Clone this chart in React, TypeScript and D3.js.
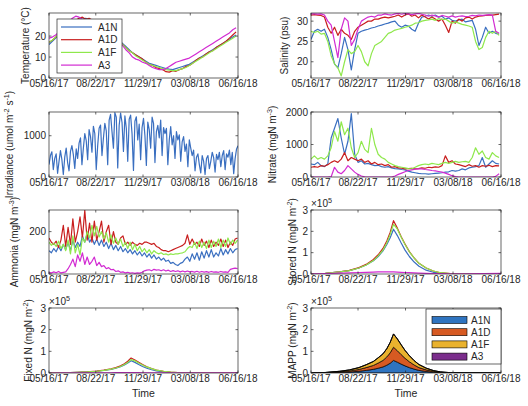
import React from "react";
import * as d3 from "d3";

// ---------------- data ----------------
const dateTickLabels = ["05/16/17", "08/22/17", "11/29/17", "03/08/18", "06/16/18"];
const siteNames = ["A1N", "A1D", "A1F", "A3"];
const siteColors = ["#3a6fc0", "#c81e1e", "#8fe84c", "#d22bd2"];
const stackColors = ["#2f74c0", "#d75a22", "#e9b22e", "#7b2d8c"];

// weekly samples (step 7 days)
const weeklyStep = 7;
const tempA1N = [16,17.5,19,20.5,22,23.5,25,26,27,27.5, 28,28.5,27.5,27,26.5,26,25,24,22.5,21, 19.5,18,16.5,15,13.5,12,11,10,9,8, 7,6.5,6,5.5,5,4.5,4.2,4,4.5,5, 5.5,6,6.5,7.5,8.5,9.5,10.5,11.5,12.5,13.5, 14.5,15.5,16.5,17.5,18.5,19.5,20.5];
const tempA1D = [17,18,19.5,21,22.5,24,25.5,26.5,27.5,28.5, 29,28,28.5,27.5,26.5,26,25,23.5,22,20.5, 19,17.5,16,14.5,13,12,11,10,9,7.5, 6.5,6,5,4.5,4,3,2.8,3.5,3.2,4, 4.5,5.5,6,7,8.5,9.5,10,11.5,12.5,13, 14.5,15.5,16.5,17.5,19,20.5,22];
const tempA1F = [17,18,19.5,21,22.5,24,25,26,27,27.5, 28,27.5,27,27,26.5,25.5,24.5,23.5,22,20.5, 19,17.5,16,14.5,13,12,10.5,9.5,8.5,7.5, 6.5,6,5.5,5,4.5,4,3.8,3.5,3.5,4, 4.5,5,6,7,8,9,10,11,12,13, 14,15,16,17,18,19,20];
const tempA3 = [19,19.5,20.5,22,23.5,25.5,27,28.5,29.5,29, 28,27.5,26,25.5,25,24,23,22,20.5,19.5, 18.5,17,15.5,13.5,12,10,9,8.5,7.5,7, 6,5,4.5,4,4,4.5,5.5,6.5,7.5,8, 8.5,9,9.5,10.5,11.5,12.5,13.5,14.5,15.5,16.5, 17.5,18.5,19.5,20.5,21.5,23,24];

const salA1N = [25.5,27.5,28,27.5,28,26,23,19.5,18.5,22, 26,23,18,23,27,27.5,27.8,28,28.3,28.5, 28.8,29,29.3,29.5,29.8,30,29,28.5,29,28.8, 28,27.5,29.5,31,31.2,31.5,31.2,31.5,31,31.2, 30.5,30.8,30.2,30,30.3,30.5,29.8,30,30.2,28, 24,26,28.5,27,27.5,27,26.8];
const salA1D = [31.5,31.6,31.5,31.4,31,28.5,27,28.5,26.5,28, 27,26.5,25.5,27.5,28.5,29,29.5,30,30,30.5, 30.5,30.8,31,30.8,31,31.2,31.5,31,31.5,31.8, 31.2,31.5,30.8,31.5,31,30.5,31,30.5,30,30.5, 29,27.2,30,29.5,30.5,30,30.8,31,30.5,31, 31.2,31.3,31.4,31.5,31.5,31.6,31.7];
const salA1F = [27.5,27.2,27.5,26.8,27,25,21.5,19.5,18.5,16.5, 20,23,22,22.5,24,22.5,20,19,22,24, 24.5,25,26,27,27.3,27.8,28,28.2,28.5,28.7, 29,29.5,29.6,30,30.2,30.3,30.5,30.2,30.6,30.4, 30.5,30,29.5,29.8,29.5,29.2,29,28.8,28.5,25, 23,23.5,26,27.5,27,27.5,26.5];
const salA3 = [31.8,31.8,31.7,31.8,31.5,30,29,25,21,28, 30.8,30,24,25.5,28,30,30.5,31,31.2,31, 31.5,31.5,31.8,31.6,31.5,31.8,31.9,31.7,31.9,31.8, 31.6,31.8,31.9,31.7,31.5,31.2,31.5,31.3,31,31.4, 31.2,31,31.3,31,31.2,31.3,31.1,31.2,31.4,31.3, 31.5,31.4,31.5,31.6,31.5,27.5,27];

const nitA1N = [400,380,450,350,320,400,1200,1500,1800,1200, 700,1100,1950,700,450,500,400,420,380,350, 360,320,300,320,280,260,250,230,220,180, 150,130,110,100,100,90,100,110,120,130, 150,160,200,180,200,250,220,280,300,320, 350,600,300,400,500,420,400];
const nitA1D = [300,320,300,350,330,380,450,500,450,550, 750,500,600,550,500,550,450,500,400,450, 380,400,350,380,300,320,280,270,250,260, 270,250,260,280,270,300,290,310,300,350, 650,450,500,400,380,350,320,380,330,350, 300,350,330,360,320,350,340];
const nitA1F = [550,650,550,600,550,650,900,1400,1100,1700, 1300,1500,900,600,750,1100,850,750,1500,1000, 700,600,550,450,400,350,320,300,280,260, 250,300,350,380,400,380,420,400,380,420, 450,420,450,480,450,470,480,450,600,900, 700,800,600,550,750,650,600];
const nitA3 = [0,0,0,0,0,0,10,300,150,100, 200,350,250,150,80,30,5,0,0,0, 0,0,0,0,0,30,80,120,160,200, 220,240,250,250,230,220,200,190,170,150, 120,80,40,10,0,0,0,0,0,0, 0,0,0,0,0,20,100];

// samples every 5 days
const ammoniaStep = 5;
const ammA1N = [110,100,120,105,130,110,140,115,150,110, 160,125,150,130,180,150,190,150,170,140, 165,135,160,130,150,120,145,115,135,110, 130,105,120,100,115,95,110,90,105,85, 100,80,95,75,90,70,80,65,75,60, 65,50,55,45,40,50,55,70,80,60, 95,70,100,65,105,75,110,80,115,80, 100,85,120,90,115,95,120,100,115,120];
const ammA1D = [170,150,140,155,125,160,230,130,220,140, 260,150,200,270,170,300,160,240,150,250, 160,200,250,150,200,230,140,200,150,140, 170,180,140,150,135,150,140,135,145,140, 150,150,145,140,145,130,125,115,110,110, 105,110,115,120,125,130,135,145,185,140, 165,140,150,130,165,135,155,125,160,130, 150,135,165,130,160,125,150,135,165,170];
const ammA1F = [150,135,145,130,155,120,140,110,160,95, 180,100,140,90,170,150,200,170,230,180, 225,175,200,165,195,150,185,145,170,140, 165,130,150,120,150,115,140,110,130,105, 120,100,115,95,110,100,95,100,92,95, 90,95,92,95,95,98,100,105,120,130, 125,150,120,155,125,150,120,160,125,155, 130,165,125,160,130,170,140,160,145,160];
const ammA3 = [8,5,10,6,12,5,8,10,25,45, 70,35,90,60,100,45,80,45,60,80, 40,55,35,40,25,30,20,22,12,15, 8,10,5,8,4,6,3,5,4,8, 15,18,20,15,22,18,20,15,20,14, 18,12,16,12,15,10,14,10,14,10, 12,9,13,8,12,9,11,8,12,9, 10,8,12,9,10,8,22,25,28,25];

// samples every 3 days
const irradianceStep = 3;
const irradiance = [300,520,610,180,450,560,90,380,640,420,60,
  480,700,350,150,620,760,540,210,680,450,
  820,950,300,700,1050,880,420,1150,980,600,
  1230,1050,180,760,1180,1260,520,940,1300,1120,
  300,1380,1520,1100,700,1560,1450,220,1250,1550,
  1320,620,1480,1180,380,1400,1500,1050,160,1350,
  1460,900,1280,420,1200,1420,1000,280,1330,1150,
  700,1450,1300,350,1100,1250,950,1380,520,1200,
  1050,1180,300,900,1220,780,1000,450,1100,900,
  1020,380,850,980,620,800,250,900,700,520,
  650,150,480,560,300,100,520,380,60,450,
  520,200,380,600,470,120,550,420,600,250,
  520,640,180,560,480,650,300,600,80,450,680,760];

// smooth model outputs (units of 1e5 mgN m^-2), sampled at these day offsets
const modelDays = [0,30,60,80,100,115,130,140,150,158,165,172,180,188,196,205,215,225,240,255,270,290,320,360,396];
const storedA1N = [0.01,0.03,0.1,0.16,0.28,0.42,0.62,0.82,1.08,1.38,1.7,2.1,1.8,1.45,1.12,0.82,0.56,0.36,0.18,0.08,0.03,0.01,0.003,0.001,0.001];
const storedA1D = [0.01,0.03,0.1,0.17,0.3,0.45,0.68,0.9,1.2,1.55,1.95,2.5,2.15,1.75,1.4,1.05,0.75,0.5,0.28,0.14,0.06,0.02,0.005,0.002,0.002];
const storedA1F = [0.01,0.03,0.1,0.16,0.28,0.42,0.63,0.85,1.12,1.45,1.85,2.33,2.1,1.72,1.38,1.04,0.74,0.5,0.28,0.14,0.06,0.02,0.005,0.002,0.002];
const storedA3 = [0.01,0.02,0.04,0.05,0.07,0.08,0.09,0.1,0.1,0.1,0.1,0.1,0.09,0.08,0.07,0.06,0.05,0.04,0.03,0.02,0.02,0.01,0.01,0.02,0.03];

const fixedA1N = [0.003,0.01,0.03,0.05,0.08,0.12,0.17,0.22,0.29,0.37,0.46,0.57,0.49,0.39,0.3,0.22,0.15,0.1,0.05,0.02,0.008,0.003,0.001,0,0];
const fixedA1D = [0.003,0.01,0.03,0.05,0.09,0.13,0.19,0.25,0.33,0.43,0.54,0.69,0.6,0.49,0.39,0.29,0.21,0.14,0.08,0.04,0.017,0.006,0.002,0.001,0.001];
const fixedA1F = [0.003,0.01,0.03,0.05,0.08,0.12,0.18,0.23,0.3,0.39,0.49,0.62,0.56,0.46,0.37,0.28,0.2,0.13,0.08,0.04,0.017,0.006,0.002,0.001,0.001];
const fixedA3 = [0,0.002,0.005,0.007,0.009,0.01,0.012,0.013,0.014,0.014,0.015,0.015,0.014,0.013,0.012,0.01,0.009,0.008,0.006,0.004,0.003,0.002,0.002,0.002,0.003];

const mappA1N = [0.002,0.008,0.025,0.045,0.08,0.12,0.17,0.22,0.28,0.36,0.45,0.58,0.5,0.41,0.33,0.25,0.18,0.12,0.07,0.035,0.015,0.005,0.001,0,0];
const mappA1D = [0.002,0.008,0.027,0.048,0.085,0.13,0.18,0.24,0.3,0.38,0.48,0.61,0.53,0.44,0.35,0.27,0.19,0.13,0.075,0.037,0.016,0.005,0.001,0,0];
const mappA1F = [0.002,0.008,0.027,0.048,0.085,0.13,0.18,0.24,0.3,0.38,0.48,0.61,0.54,0.45,0.36,0.28,0.2,0.14,0.08,0.04,0.017,0.006,0.001,0,0];
const mappA3 = [0,0.001,0.002,0.003,0.004,0.005,0.006,0.007,0.007,0.008,0.008,0.008,0.008,0.007,0.006,0.005,0.005,0.004,0.003,0.002,0.002,0.001,0.001,0.001,0.001];

// ---------------- drawing ----------------
const parseDate = d3.timeParse("%m/%d/%y");
const startDate = parseDate(dateTickLabels[0]) as Date;
const endDate = parseDate(dateTickLabels[dateTickLabels.length - 1]) as Date;
const FONT = "'Liberation Sans', Arial, Helvetica, sans-serif";
const INK = "#262626";

type Series = { values: number[]; days: number[]; color: string };
type Part = [string, boolean];

const stepDays = (n: number, step: number) => d3.range(n).map((i) => i * step);
const mk = (arrs: number[][], step: number): Series[] =>
  arrs.map((v, k) => ({ values: v, days: stepDays(v.length, step), color: siteColors[k] }));
const mkDays = (arrs: number[][]): Series[] =>
  arrs.map((v, k) => ({ values: v, days: modelDays, color: siteColors[k] }));

function Rich({ parts, size }: { parts: Part[]; size: number }) {
  let sup = false;
  return (
    <>
      {parts.map(([t, s], k) => {
        const dy = s && !sup ? -size * 0.4 : !s && sup ? size * 0.4 : 0;
        sup = s;
        return (
          <tspan key={k} dy={dy} fontSize={s ? size * 0.72 : size}>
            {t}
          </tspan>
        );
      })}
    </>
  );
}

interface PanelProps {
  id: string;
  box: [number, number, number, number];
  yDomain: [number, number];
  yTicks: number[];
  ylabel: Part[];
  ylabelX: number;
  lines?: Series[];
  stack?: boolean;
  exponent?: boolean;
  legend?: "lines" | "patches";
  xlabel?: boolean;
}

function Panel(p: PanelProps) {
  const [L, T, R, B] = p.box;
  const x = d3.scaleTime().domain([startDate, endDate]).range([L, R]);
  const y = d3.scaleLinear().domain(p.yDomain).range([B, T]);
  const xt = dateTickLabels.map((s) => parseDate(s) as Date);
  const dx = (d: number) => x(d3.timeDay.offset(startDate, d));
  const tl = 2.5;

  let stackEls: React.ReactNode = null;
  if (p.stack) {
    const rows = modelDays.map((d, i) => ({
      day: d,
      A1N: mappA1N[i],
      A1D: mappA1D[i],
      A1F: mappA1F[i],
      A3: mappA3[i],
    }));
    const st = d3.stack<any>().keys(siteNames)(rows);
    const area = d3
      .area<any>()
      .x((d) => dx(d.data.day))
      .y0((d) => y(d[0]))
      .y1((d) => y(d[1]));
    stackEls = st.map((s, k) => (
      <path key={k} d={area(s) || ""} fill={stackColors[k]} stroke="#000" strokeWidth={0.7} />
    ));
  }

  const cy = (T + B) / 2;
  return (
    <g fontFamily={FONT} fill={INK}>
      <defs>
        <clipPath id={p.id}>
          <rect x={L} y={T} width={R - L} height={B - T} />
        </clipPath>
      </defs>
      <rect x={L} y={T} width={R - L} height={B - T} fill="#fff" />
      <g clipPath={`url(#${p.id})`}>
        {stackEls}
        {(p.lines || []).map((s, k) => (
          <path
            key={k}
            d={
              d3
                .line<number>()
                .x((_, i) => dx(s.days[i]))
                .y((v) => y(v))(s.values) || ""
            }
            fill="none"
            stroke={s.color}
            strokeWidth={1.2}
            strokeLinejoin="round"
          />
        ))}
      </g>
      <rect x={L} y={T} width={R - L} height={B - T} fill="none" stroke={INK} strokeWidth={0.7} />
      {xt.map((d, i) => (
        <g key={"x" + i}>
          <line x1={x(d)} x2={x(d)} y1={B} y2={B - tl} stroke={INK} strokeWidth={0.7} />
          <line x1={x(d)} x2={x(d)} y1={T} y2={T + tl} stroke={INK} strokeWidth={0.7} />
          <text x={x(d)} y={B + 9} fontSize={10} textAnchor="middle">
            {dateTickLabels[i]}
          </text>
        </g>
      ))}
      {p.yTicks.map((v, i) => (
        <g key={"y" + i}>
          <line x1={L} x2={L + tl} y1={y(v)} y2={y(v)} stroke={INK} strokeWidth={0.7} />
          <line x1={R} x2={R - tl} y1={y(v)} y2={y(v)} stroke={INK} strokeWidth={0.7} />
          <text x={L - 3} y={y(v)} dy="0.35em" fontSize={10} textAnchor="end">
            {v}
          </text>
        </g>
      ))}
      <text transform={`translate(${p.ylabelX},${cy}) rotate(-90)`} textAnchor="middle" dy="0.35em" fontSize={10}>
        <Rich parts={p.ylabel} size={10} />
      </text>
      {p.exponent && (
        <text x={L} y={T - 3} fontSize={10}>
          <Rich parts={[["×10", false], ["5", true]]} size={10} />
        </text>
      )}
      {p.xlabel && (
        <text x={(L + R) / 2} y={B + 24} fontSize={10.5} textAnchor="middle">
          Time
        </text>
      )}
      {p.legend === "lines" && (
        <g>
          <rect x={57} y={19} width={65} height={54} fill="#fff" stroke={INK} strokeWidth={0.7} />
          {siteNames.map((n, k) => (
            <g key={n}>
              <line x1={61} x2={92} y1={27 + k * 12.7} y2={27 + k * 12.7} stroke={siteColors[k]} strokeWidth={1.2} />
              <text x={98} y={27 + k * 12.7} dy="0.35em" fontSize={10}>
                {n}
              </text>
            </g>
          ))}
        </g>
      )}
      {p.legend === "patches" && (
        <g>
          <rect x={426} y={309} width={75} height={55} fill="#fff" stroke={INK} strokeWidth={0.7} />
          {siteNames.map((n, k) => (
            <g key={n}>
              <rect x={432} y={316.5 + k * 12.2} width={35} height={7} fill={stackColors[k]} stroke="#000" strokeWidth={0.6} />
              <text x={471} y={320 + k * 12.2} dy="0.35em" fontSize={10}>
                {n}
              </text>
            </g>
          ))}
        </g>
      )}
    </g>
  );
}

export default function App() {
  const c1: [number, number] = [49, 238];
  const c2: [number, number] = [311, 501];
  const rows: [number, number][] = [
    [13, 78],
    [112, 177],
    [210, 274],
    [308, 373],
  ];
  const bx = (c: [number, number], r: [number, number]): [number, number, number, number] => [c[0], r[0], c[1], r[1]];
  const mN: Part[] = [["(mgN m", false]];
  return (
    <svg width={528} height={406} style={{ position: "absolute", left: 0, top: 0, background: "#fff" }}>
      <rect width={528} height={406} fill="#fff" />
      <Panel
        id="p1"
        box={bx(c1, rows[0])}
        yDomain={[0, 31]}
        yTicks={[0, 10, 20]}
        ylabel={[["Temperature (°C)", false]]}
        ylabelX={29}
        lines={mk([tempA1N, tempA1D, tempA1F, tempA3], weeklyStep)}
        legend="lines"
      />
      <Panel
        id="p2"
        box={bx(c2, rows[0])}
        yDomain={[16, 32]}
        yTicks={[20, 25, 30]}
        ylabel={[["Salinity (psu)", false]]}
        ylabelX={288}
        lines={mk([salA1N, salA1D, salA1F, salA3], weeklyStep)}
      />
      <Panel
        id="p3"
        box={bx(c1, rows[1])}
        yDomain={[0, 1575]}
        yTicks={[0, 1000]}
        ylabel={[["Irradiance (umol m", false], ["-2", true], [" s", false], ["-1", true], [")", false]]}
        ylabelX={13}
        lines={[{ values: irradiance, days: stepDays(irradiance.length, irradianceStep), color: siteColors[0] }]}
      />
      <Panel
        id="p4"
        box={bx(c2, rows[1])}
        yDomain={[0, 2000]}
        yTicks={[0, 1000, 2000]}
        ylabel={[["Nitrate ", false], ...mN, ["-3", true], [")", false]]}
        ylabelX={276}
        lines={mk([nitA1N, nitA1D, nitA1F, nitA3], weeklyStep)}
      />
      <Panel
        id="p5"
        box={bx(c1, rows[2])}
        yDomain={[0, 302]}
        yTicks={[0, 200]}
        ylabel={[["Ammonia ", false], ...mN, ["-3", true], [")", false]]}
        ylabelX={18}
        lines={mk([ammA1N, ammA1D, ammA1F, ammA3], ammoniaStep)}
      />
      <Panel
        id="p6"
        box={bx(c2, rows[2])}
        yDomain={[0, 3]}
        yTicks={[0, 1, 2, 3]}
        ylabel={[["Stored N ", false], ...mN, ["-2", true], [")", false]]}
        ylabelX={296}
        lines={mkDays([storedA1N, storedA1D, storedA1F, storedA3])}
        exponent
      />
      <Panel
        id="p7"
        box={bx(c1, rows[3])}
        yDomain={[0, 3]}
        yTicks={[0, 1, 2, 3]}
        ylabel={[["Fixed N ", false], ...mN, ["-2", true], [")", false]]}
        ylabelX={32}
        lines={mkDays([fixedA1N, fixedA1D, fixedA1F, fixedA3])}
        exponent
        xlabel
      />
      <Panel
        id="p8"
        box={bx(c2, rows[3])}
        yDomain={[0, 3]}
        yTicks={[0, 1, 2, 3]}
        ylabel={[["MAPP ", false], ...mN, ["-2", true], [")", false]]}
        ylabelX={296}
        stack
        exponent
        legend="patches"
        xlabel
      />
    </svg>
  );
}
